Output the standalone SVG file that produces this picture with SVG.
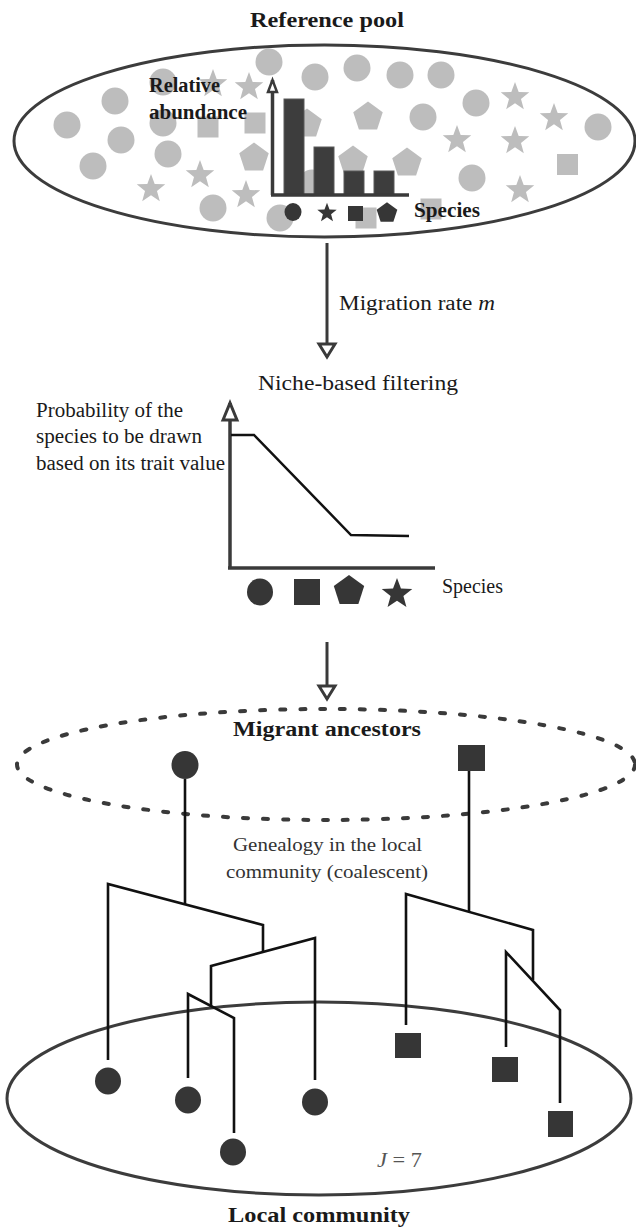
<svg xmlns="http://www.w3.org/2000/svg" width="636" height="1228" viewBox="0 0 636 1228">
<defs>
<style>
.bg{fill:#bdbdbd}
.dk{fill:#363636}
.bold{font-family:"Liberation Serif","Times New Roman",serif;font-weight:bold;font-size:20px;fill:#1a1a1a}
.reg{font-family:"Liberation Serif","Times New Roman",serif;font-size:20px;fill:#1a1a1a}
.gen{font-family:"Liberation Serif","Times New Roman",serif;font-size:19px;fill:#333}
.axis{stroke:#3a3a3a;stroke-width:3.5;fill:none}
.conn{stroke:#3a3a3a;stroke-width:3;fill:none}
.branch{stroke:#111;stroke-width:2.6;fill:none;stroke-linejoin:miter}
.pool{fill:none;stroke:#3c3c3c;stroke-width:3}
.bar{fill:#3d3d3d;stroke:#5a5a5a;stroke-width:1}
</style>
<path id="star" d="M0,-15 L3.7,-5.1 L14.27,-4.64 L5.99,1.95 L8.82,12.14 L0,6.3 L-8.82,12.14 L-5.99,1.95 L-14.27,-4.64 L-3.7,-5.1 Z"/>
<path id="pent" d="M0,-15.5 L14.74,-4.79 L9.11,12.54 L-9.11,12.54 L-14.74,-4.79 Z"/>
<marker id="ah" markerUnits="userSpaceOnUse" markerWidth="24" markerHeight="24" viewBox="0 0 24 24" refX="17" refY="12" orient="auto"><path d="M4,4 L17,12 L4,20 Z" fill="#fff" stroke="#3a3a3a" stroke-width="3"/></marker>
<marker id="ahm" markerUnits="userSpaceOnUse" markerWidth="26" markerHeight="26" viewBox="0 0 26 26" refX="20" refY="13" orient="auto"><path d="M3,6 L20,13 L3,20 Z" fill="#fff" stroke="#3a3a3a" stroke-width="3"/></marker>
<marker id="ahs" markerUnits="userSpaceOnUse" markerWidth="20" markerHeight="20" viewBox="0 0 20 20" refX="15" refY="10" orient="auto"><path d="M3,5.5 L15,10 L3,14.5 Z" fill="#fff" stroke="#3a3a3a" stroke-width="2.5"/></marker>
</defs>
<rect width="636" height="1228" fill="#fff"/>

<g id="reference-pool">
<text class="bold" x="250" y="27" textLength="154" lengthAdjust="spacingAndGlyphs">Reference pool</text>
<g class="bg">
<circle cx="67" cy="125" r="13.5"/><circle cx="115" cy="101" r="13.5"/><circle cx="121" cy="140" r="13.5"/><circle cx="93" cy="166" r="13.5"/>
<circle cx="168" cy="154" r="13.5"/><circle cx="163" cy="82" r="13.5"/><circle cx="163" cy="123" r="13.5"/><circle cx="269" cy="62" r="13.5"/><circle cx="315" cy="77" r="13.5"/>
<circle cx="357" cy="68" r="13.5"/><circle cx="400" cy="75" r="13.5"/><circle cx="441" cy="75" r="13.5"/><circle cx="423" cy="117" r="13.5"/>
<circle cx="476" cy="103" r="13.5"/><circle cx="598" cy="127" r="13.5"/><circle cx="472" cy="178" r="13.5"/><circle cx="213" cy="208" r="13.5"/>
<circle cx="312" cy="183" r="13.5"/><circle cx="280" cy="218" r="13.5"/>
<use href="#star" x="151" y="189"/><use href="#star" x="200" y="175"/><use href="#star" x="246" y="195"/><use href="#star" x="249" y="87"/>
<use href="#star" x="213" y="84"/><use href="#star" x="457" y="140"/><use href="#star" x="515" y="97"/><use href="#star" x="515" y="141"/>
<use href="#star" x="554" y="118"/><use href="#star" x="520" y="190"/>
<rect x="197.5" y="116.5" width="21" height="21"/><rect x="244.5" y="112.5" width="21" height="21"/><rect x="557" y="154" width="21" height="21"/>
<rect x="420.5" y="198.5" width="21" height="21"/><rect x="355.5" y="207.5" width="21" height="21"/>
<use href="#pent" x="254" y="158"/><use href="#pent" x="307" y="124"/><use href="#pent" x="368" y="117"/><use href="#pent" x="353" y="161"/><use href="#pent" x="407" y="163"/>
</g>
<ellipse class="pool" cx="324.5" cy="141" rx="310.5" ry="96"/>
<rect class="bar" x="284" y="99" width="20" height="96"/>
<rect class="bar" x="314" y="147" width="20" height="48"/>
<rect class="bar" x="344" y="171" width="20" height="24"/>
<rect class="bar" x="374" y="171" width="20" height="24"/>
<path class="axis" d="M272.5,195 V80" stroke-width="3" marker-end="url(#ahs)"/>
<path class="axis" d="M271,195 H409" stroke-width="3"/>
<g class="dk">
<ellipse cx="293" cy="212" rx="8.5" ry="9"/>
<use href="#star" transform="translate(327,213) scale(0.68)"/>
<rect x="348" y="206" width="15" height="15"/>
<use href="#pent" transform="translate(387,213) scale(0.7)"/>
</g>
<text class="bold" x="149" y="92" textLength="71" lengthAdjust="spacingAndGlyphs">Relative</text>
<text class="bold" x="149" y="119" textLength="98" lengthAdjust="spacingAndGlyphs">abundance</text>
<text class="bold" x="414" y="217" textLength="66" lengthAdjust="spacingAndGlyphs">Species</text>
</g>

<g id="niche-filter">
<text class="reg" x="339" y="310" textLength="156" lengthAdjust="spacingAndGlyphs">Migration rate <tspan font-style="italic">m</tspan></text>
<text class="reg" x="258" y="390" textLength="200" lengthAdjust="spacingAndGlyphs">Niche-based filtering</text>
<text class="reg" x="36" y="417" textLength="147" lengthAdjust="spacingAndGlyphs">Probability of the</text>
<text class="reg" x="36" y="443" textLength="166" lengthAdjust="spacingAndGlyphs">species to be drawn</text>
<text class="reg" x="36" y="470" textLength="189" lengthAdjust="spacingAndGlyphs">based on its trait value</text>
<path class="axis" d="M230,568 V403" stroke-width="4" marker-end="url(#ahm)"/>
<path class="axis" d="M228,568 H435" stroke-width="4"/>
<polyline points="231,435 254,435 351,535 409,536" fill="none" stroke="#111" stroke-width="2.5"/>
<g class="dk">
<ellipse cx="260" cy="592" rx="13" ry="13.5"/>
<rect x="294" y="579" width="26" height="26"/>
<use href="#pent" transform="translate(349,591) scale(1.03)"/>
<use href="#star" transform="translate(397,594) scale(1.07)"/>
</g>
<text class="reg" x="442" y="593" textLength="61" lengthAdjust="spacingAndGlyphs">Species</text>
</g>

<g id="migrant-ancestors">
<ellipse cx="326" cy="764.5" rx="309" ry="55.5" fill="none" stroke="#3a3a3a" stroke-width="4" stroke-dasharray="5 15" stroke-linecap="round"/>
<text class="bold" x="233" y="736" textLength="188" lengthAdjust="spacingAndGlyphs">Migrant ancestors</text>
<ellipse class="dk" cx="185" cy="765" rx="13.5" ry="14"/>
<rect class="dk" x="458" y="745" width="27" height="26"/>
</g>

<g id="genealogy-label">
<text class="gen" x="233" y="851" textLength="189" lengthAdjust="spacingAndGlyphs">Genealogy in the local</text>
<text class="gen" x="226" y="878" textLength="202" lengthAdjust="spacingAndGlyphs">community (coalescent)</text>
</g>

<g id="local-community">
<ellipse class="pool" cx="319" cy="1098.5" rx="312" ry="96.5"/>
<ellipse class="dk" cx="108" cy="1081" rx="13" ry="13.5"/>
<ellipse class="dk" cx="188" cy="1100" rx="13" ry="13.5"/>
<ellipse class="dk" cx="315" cy="1102" rx="13" ry="13.5"/>
<ellipse class="dk" cx="233" cy="1152" rx="13" ry="13.5"/>
<rect class="dk" x="395" y="1033" width="26" height="25"/>
<rect class="dk" x="492" y="1057" width="26" height="25"/>
<rect class="dk" x="548" y="1111" width="25" height="26"/>
<text x="377" y="1167" font-family="Liberation Serif, serif" font-size="20" fill="#555" textLength="45" lengthAdjust="spacingAndGlyphs"><tspan font-style="italic">J</tspan> = 7</text>
<text class="bold" x="228" y="1222" textLength="182" lengthAdjust="spacingAndGlyphs">Local community</text>
</g>

<g id="connectors">
<path class="conn" d="M327,243 V357" marker-end="url(#ah)"/>
<path class="conn" d="M327,642 V699" marker-end="url(#ah)"/>
<g class="branch">
<path d="M185,779 V904"/>
<path d="M108,1060 V884 L263,925 V951"/>
<path d="M315,1080 V938 L211,966 V1007"/>
<path d="M188,1078 V994 L234,1018 V1133"/>
<path d="M469,771 V912"/>
<path d="M406,1025 V894 L533,930 V980"/>
<path d="M506,1047 V952 L560,1010 V1103"/>
</g>
</g>
</svg>
